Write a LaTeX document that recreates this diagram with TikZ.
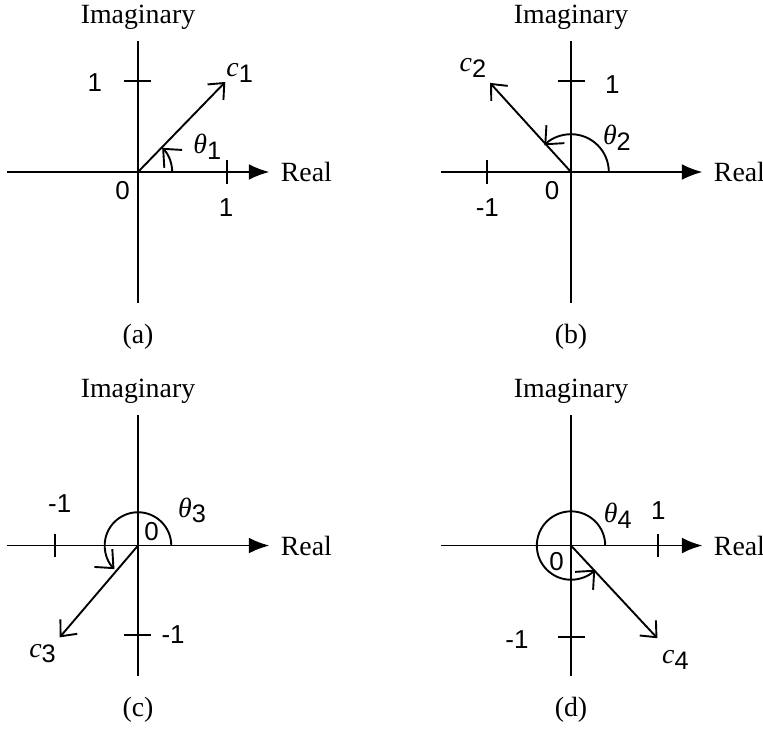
\documentclass[tikz,border=0pt]{standalone}
\usepackage{fontspec}
\setmainfont{Liberation Serif}
\setsansfont{Liberation Sans}
\usetikzlibrary{arrows.meta}
\newcommand{\lowidx}[1]{\raisebox{-0.45ex}{\fontsize{8}{9}\sffamily #1}}

\begin{document}
\begin{tikzpicture}[line width=0.6pt,
    axis/.style={-{Latex[length=6.5pt,width=5pt]}},
    vec/.style={-{Straight Barb[length=4pt,width=7pt]}},
    angarc/.style={-{Straight Barb[length=4.5pt,width=8pt]}},
    lbl/.style={font=\fontsize{8.8}{10}\selectfont},
    num/.style={font=\fontsize{8.2}{10}\sffamily}]
\useasboundingbox (-1.533,1.911) rectangle (6.944,-6.211);

% (a) first quadrant
\begin{scope}
    \draw[axis] (-1.45,0)--(1.46,0) node[right,lbl] (reA) {Real};
    \draw (0,-1.45)--(0,1.45) node[above,lbl] (imA) {Imaginary};
    \draw (-0.15,1.01)--(0.15,1.01);
    \draw (0.99,-0.13)--(0.99,0.13);
    \draw[vec] (0,0)--(0.97,1.0);
    \draw[angarc] (0.38,0) arc (0:45:0.38);
    \node[num] (oneyA) at (-0.48,0.99) {1};
    \node[num] (onexA) at (0.98,-0.39) {1};
    \node[num] (zeroA) at (-0.17,-0.21) {0};
    \node[lbl] (cA) at (1.13,1.1) {{\itshape c}\lowidx{1}};
    \node[lbl] (thA) at (0.77,0.28) {{\itshape θ}\lowidx{1}};
    \node[lbl] (capA) at (0,-1.83) {(a)};
\end{scope}

% (b) second quadrant
\begin{scope}[xshift=4.811cm]
    \draw[axis] (-1.45,0)--(1.46,0) node[right,lbl] (reB) {Real};
    \draw (0,-1.45)--(0,1.45) node[above,lbl] (imB) {Imaginary};
    \draw (-0.15,1.01)--(0.15,1.01);
    \draw (-0.93,-0.13)--(-0.93,0.13);
    \draw[vec] (0,0)--(-0.9,0.99);
    \draw[angarc] (0.42,0) arc (0:135:0.42);
    \node[num] (oneyB) at (0.46,0.97) {1};
    \node[num] (onexB) at (-0.93,-0.4) {-1};
    \node[num] (zeroB) at (-0.21,-0.21) {0};
    \node[lbl] (cB) at (-1.09,1.16) {{\itshape c}\lowidx{2}};
    \node[lbl] (thB) at (0.51,0.38) {{\itshape θ}\lowidx{2}};
    \node[lbl] (capB) at (0,-1.83) {(b)};
\end{scope}

% (c) third quadrant
\begin{scope}[yshift=-4.15cm]
    \draw[axis] (-1.45,0)--(1.46,0) node[right,lbl] (reC) {Real};
    \draw (0,-1.45)--(0,1.45) node[above,lbl] (imC) {Imaginary};
    \draw (-0.92,-0.13)--(-0.92,0.13);
    \draw (-0.15,-0.99)--(0.15,-0.99);
    \draw[vec] (0,0)--(-0.87,-1.02);
    \draw[angarc] (0.37,0) arc (0:225:0.37);
    \node[num] (onexC) at (-0.87,0.47) {-1};
    \node[num] (oneyC) at (0.39,-0.99) {-1};
    \node[num] (zeroC) at (0.15,0.16) {0};
    \node[lbl] (cC) at (-1.06,-1.2) {{\itshape c}\lowidx{3}};
    \node[lbl] (thC) at (0.6,0.39) {{\itshape θ}\lowidx{3}};
    \node[lbl] (capC) at (0,-1.83) {(c)};
\end{scope}

% (d) fourth quadrant
\begin{scope}[xshift=4.811cm,yshift=-4.15cm]
    \draw[axis] (-1.45,0)--(1.46,0) node[right,lbl] (reD) {Real};
    \draw (0,-1.45)--(0,1.45) node[above,lbl] (imD) {Imaginary};
    \draw (0.97,-0.13)--(0.97,0.13);
    \draw (-0.15,-1.02)--(0.15,-1.02);
    \draw[vec] (0,0)--(0.96,-1.03);
    \draw[angarc] (0.38,0) arc (0:315:0.38);
    \node[num] (onexD) at (0.97,0.39) {1};
    \node[num] (oneyD) at (-0.6,-1.04) {-1};
    \node[num] (zeroD) at (-0.16,-0.18) {0};
    \node[lbl] (cD) at (1.16,-1.27) {{\itshape c}\lowidx{4}};
    \node[lbl] (thD) at (0.52,0.33) {{\itshape θ}\lowidx{4}};
    \node[lbl] (capD) at (0,-1.83) {(d)};
\end{scope}
\end{tikzpicture}
\end{document}
